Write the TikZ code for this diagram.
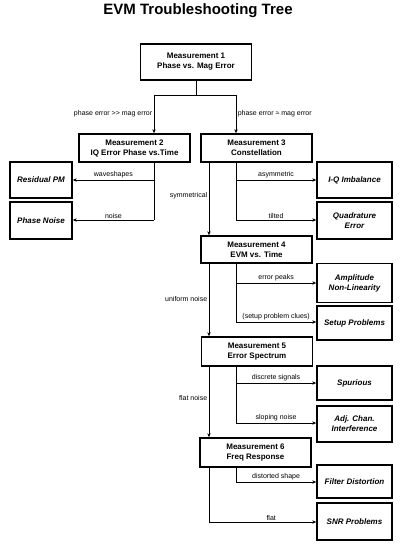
\documentclass[tikz,border=0pt]{standalone}
\usepackage{fontspec}
\setmainfont{Liberation Sans}
\usetikzlibrary{arrows.meta}
\tikzset{
  meas/.style={draw, line width=1.6pt, align=center, minimum width=111pt, inner sep=1pt,
    font=\fontsize{8}{10}\selectfont\bfseries},
  cause/.style={draw, line width=1.6pt, align=center, minimum width=75pt, inner sep=1pt,
    font=\fontsize{8}{10}\selectfont\bfseries\itshape},
  lbl/.style={font=\fontsize{7}{8}\selectfont, inner sep=1.5pt},
  wire/.style={line width=0.6pt, -{Stealth[length=4pt,width=3.4pt]}},
}
\begin{document}
\begin{tikzpicture}[x=1pt, y=-1pt]
\useasboundingbox (0,0) rectangle (400,546);
% titel
\node[font=\fontsize{15}{18}\selectfont\bfseries] (title) at (198,11) {EVM Troubleshooting Tree};
% Messungen
\node[meas, minimum height=36pt] (m1) at (196,62) {Measurement 1\\Phase vs. Mag Error};
\node[meas, minimum height=28pt] (m2) at (134.5,148) {Measurement 2\\IQ Error Phase vs.Time};
\node[meas, minimum height=28pt] (m3) at (256.5,148) {Measurement 3\\Constellation};
\node[meas, minimum height=27pt] (m4) at (256.5,249.5) {Measurement 4\\EVM vs. Time};
\node[meas, minimum height=29pt] (m5) at (257,351.5) {Measurement 5\\Error Spectrum};
\node[meas, minimum height=29pt] (m6) at (255.5,452.5) {Measurement 6\\Freq Response};
% Ursachen
\node[cause, minimum width=62pt, minimum height=36pt] (rpm) at (41,180) {Residual PM};
\node[cause, minimum width=62pt, minimum height=37pt] (pn) at (41,220.5) {Phase Noise};
\node[cause, minimum height=36pt] (iq) at (354.5,180) {I-Q Imbalance};
\node[cause, minimum height=37pt] (quad) at (354.5,220.5) {Quadrature\\Error};
\node[cause, minimum height=39pt] (amp) at (354.5,283) {Amplitude\\Non-Linearity};
\node[cause, minimum height=34pt] (setup) at (354.5,323) {Setup Problems};
\node[cause, minimum height=34pt] (spur) at (354.5,383) {Spurious};
\node[cause, minimum height=36pt] (adj) at (354.5,424) {Adj. Chan.\\Interference};
\node[cause, minimum height=33pt] (filt) at (354.5,481.5) {Filter Distortion};
\node[cause, minimum height=37pt] (snr) at (354.5,521.5) {SNR Problems};
% Knoten der Leitungen
\coordinate (a2) at (154,95);
\coordinate (a3) at (236,95);
\coordinate (b2) at (154,220);
\coordinate (r3) at (236,220);
\coordinate (r4) at (236,322);
\coordinate (r5) at (236,423);
\coordinate (r6) at (236,482);
\coordinate (t1) at (209,0);
\coordinate (t6) at (209,522);
% Messung 1
\draw[line width=0.6pt] (m1.south) -- (m1.south |- a2);
\draw[wire] (a3) -- (a2) -- (a2 |- m2.north) node[lbl, pos=0.5, left] {phase error >{}> mag error};
\draw[wire] (a3) -- (a3 |- m3.north) node[lbl, pos=0.5, right] {phase error ≈ mag error};
% Messung 2
\draw[line width=0.6pt] (m2.south -| b2) -- (b2);
\draw[wire] (b2 |- rpm) -- (rpm.east) node[lbl, midway, above] {waveshapes};
\draw[wire] (b2) -- (pn.east |- b2) node[lbl, midway, above] {noise};
% Messung 3
\draw[wire] (m3.south -| t1) -- (m4.north -| t1) node[lbl, pos=0.46, left] {symmetrical};
\draw[line width=0.6pt] (m3.south -| r3) -- (r3);
\draw[wire] (r3 |- iq) -- (iq.west) node[lbl, midway, above] {asymmetric};
\draw[wire] (r3) -- (quad.west |- r3) node[lbl, midway, above] {tilted};
% Messung 4
\draw[wire] (m4.south -| t1) -- (m5.north -| t1) node[lbl, pos=0.48, left] {uniform noise};
\draw[line width=0.6pt] (m4.south -| r4) -- (r4);
\draw[wire] (r4 |- amp) -- (amp.west) node[lbl, midway, above] {error peaks};
\draw[wire] (r4) -- (setup.west |- r4) node[lbl, midway, above] {(setup problem clues)};
% Messung 5
\draw[wire] (m5.south -| t1) -- (m6.north -| t1) node[lbl, pos=0.45, left] {flat noise};
\draw[line width=0.6pt] (m5.south -| r5) -- (r5);
\draw[wire] (r5 |- spur) -- (spur.west) node[lbl, midway, above] {discrete signals};
\draw[wire] (r5) -- (adj.west |- r5) node[lbl, midway, above] {sloping noise};
% Messung 6
\draw[line width=0.6pt] (m6.south -| r6) -- (r6);
\draw[wire] (r6) -- (filt.west |- r6) node[lbl, midway, above] {distorted shape};
\draw[line width=0.6pt] (m6.south -| t6) -- (t6);
\draw[wire] (t6) -- (snr.west |- t6) node[lbl, pos=0.58, above] {flat};
\end{tikzpicture}
\end{document}
